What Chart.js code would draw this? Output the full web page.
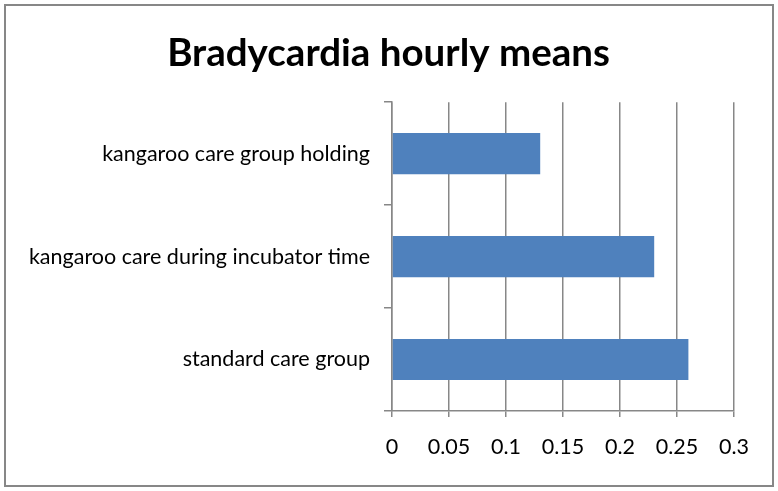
<!DOCTYPE html>
<html>
<head>
<meta charset="utf-8">
<title>Bradycardia hourly means</title>
<script src="https://cdn.jsdelivr.net/npm/chart.js@4.4.0/dist/chart.umd.min.js"></script>
<style>
  body { margin: 0; background: #fff; }
</style>
</head>
<body>
<canvas id="myChart" width="778" height="491"></canvas>
<script>
// categories - top se bottom order me
const groups = ["kangaroo care group holding", "kangaroo care during incubator time", "standard care group"];
const hourlyMeans = [0.13, 0.23, 0.26];
const xTicks = [0, 0.05, 0.1, 0.15, 0.2, 0.25, 0.3];

const grey = "#878787";
const fontName = "Lato, 'Open Sans', sans-serif";

// chart ke chaaro taraf border
const frame = {
    id: "frame",
    beforeDraw: function(chart){
        const c = chart.ctx;
        c.save();
        c.fillStyle = "#fff";
        c.fillRect(0, 0, chart.width, chart.height);
        c.strokeStyle = grey;
        c.lineWidth = 2;
        c.strokeRect(5, 5, chart.width - 10, chart.height - 10);
        c.restore();
    },
    // y labels lambe h, unko cut na hone do
    afterLayout: function(chart){
        chart.scales.y.left = 6;
    }
};

const ctx = document.getElementById("myChart");

new Chart(ctx, {
    type: "bar",
    data: {
        labels: groups,
        datasets: [{
            data: hourlyMeans,
            backgroundColor: "#4F81BD",
            barPercentage: 0.4,
            categoryPercentage: 1.0
        }]
    },
    options: {
        indexAxis: "y",
        responsive: false,
        animation: false,
        layout: { padding: { left: 43, right: 44, top: 0, bottom: 0 } },
        plugins: {
            legend: { display: false },
            tooltip: { enabled: false },
            title: {
                display: true,
                text: "Bradycardia hourly means",
                color: "#000",
                font: { family: fontName, size: 38.5, weight: "bold" },
                padding: { top: 30, bottom: 26 }
            }
        },
        scales: {
            x: {
                min: 0,
                max: 0.3,
                afterBuildTicks: function(scale){
                    scale.ticks = xTicks.map(v => ({ value: v }));
                },
                afterFit: function(scale){
                    scale.height = 80;
                },
                grid: { color: grey, lineWidth: 1.5, tickLength: 6 },
                border: { color: grey, width: 1.5 },
                ticks: {
                    color: "#000",
                    padding: 17,
                    font: { family: fontName, size: 21.5 },
                    callback: function(v){ return String(v); }
                }
            },
            y: {
                afterFit: function(scale){
                    scale.width = 349;
                },
                grid: { drawOnChartArea: false, color: grey, lineWidth: 1.5, tickLength: 8, offset: true },
                border: { color: grey, width: 1.5 },
                ticks: {
                    color: "#000",
                    padding: 14,
                    font: { family: fontName, size: 21.5 }
                }
            }
        }
    },
    plugins: [frame]
});
</script>
</body>
</html>
